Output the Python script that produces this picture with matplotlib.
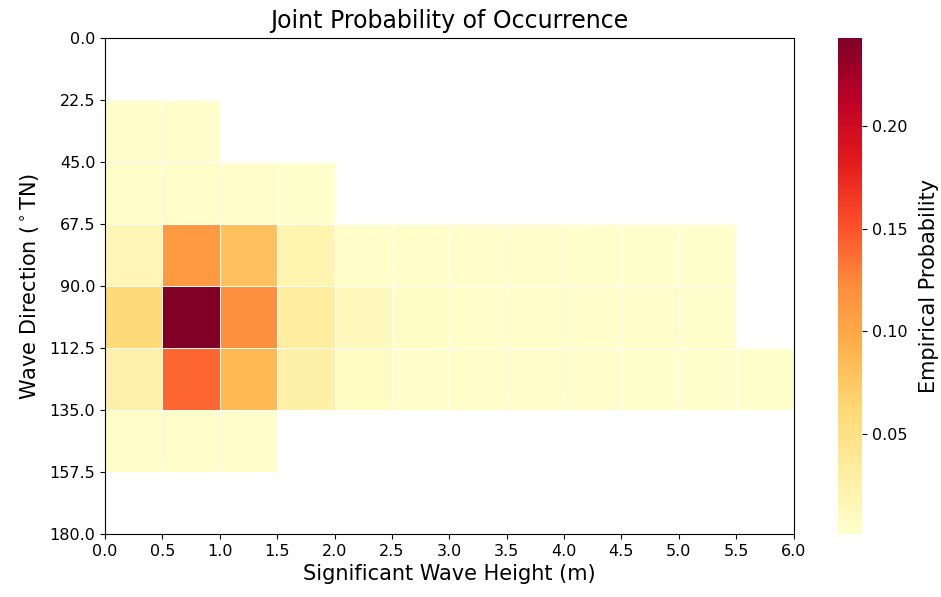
import numpy as np
import matplotlib
matplotlib.use("Agg")
import matplotlib.pyplot as plt

# Bin edges
hs_edges = [0.0, 0.5, 1.0, 1.5, 2.0, 2.5, 3.0, 3.5, 4.0, 4.5, 5.0, 5.5, 6.0]
dir_edges = [0.0, 22.5, 45.0, 67.5, 90.0, 112.5, 135.0, 157.5, 180.0]

# Empirical joint probability, one row per direction bin (0 = no occurrence)
row_0_22 = [0, 0, 0, 0, 0, 0, 0, 0, 0, 0, 0, 0]
row_22_45 = [0.002, 0.002, 0, 0, 0, 0, 0, 0, 0, 0, 0, 0]
row_45_67 = [0.003, 0.004, 0.002, 0.001, 0, 0, 0, 0, 0, 0, 0, 0]
row_67_90 = [0.017, 0.112, 0.080, 0.020, 0.004, 0.003, 0.002, 0.002, 0.001, 0.001, 0.001, 0]
row_90_112 = [0.060, 0.243, 0.121, 0.032, 0.011, 0.005, 0.004, 0.003, 0.002, 0.002, 0.001, 0]
row_112_135 = [0.024, 0.140, 0.087, 0.027, 0.008, 0.004, 0.003, 0.002, 0.002, 0.001, 0.001, 0.001]
row_135_157 = [0.003, 0.004, 0.002, 0, 0, 0, 0, 0, 0, 0, 0, 0]
row_157_180 = [0, 0, 0, 0, 0, 0, 0, 0, 0, 0, 0, 0]

prob = np.array([row_0_22, row_22_45, row_45_67, row_67_90,
                 row_90_112, row_112_135, row_135_157, row_157_180])
prob = np.ma.masked_where(prob <= 0, prob)

fig = plt.figure(figsize=(9.41, 5.97), dpi=100)
ax = fig.add_axes([0.1116, 0.1055, 0.7317, 0.8308])
cax = fig.add_axes([0.8905, 0.1055, 0.026, 0.8308])

mesh = ax.pcolormesh(hs_edges, dir_edges, prob, cmap="YlOrRd",
                     edgecolors="white", linewidth=0.5)
ax.set_xlim(0, 6)
ax.set_ylim(180, 0)
ax.set_xticks(hs_edges)
ax.set_xticklabels([f"{v:.1f}" for v in hs_edges])
ax.set_yticks(dir_edges)
ax.set_yticklabels([f"{v:.1f}" for v in dir_edges])
ax.tick_params(labelsize=11.5)

ax.set_title("Joint Probability of Occurrence", fontsize=17, pad=7)
ax.set_xlabel("Significant Wave Height (m)", fontsize=15)
ax.set_ylabel("Wave Direction ($^\\circ$TN)", fontsize=15, labelpad=6)

cb = fig.colorbar(mesh, cax=cax)
cb.outline.set_visible(False)
cb.set_ticks([0.05, 0.10, 0.15, 0.20])
cb.ax.tick_params(labelsize=11.5)
cb.set_label("Empirical Probability", fontsize=15, labelpad=8)

fig.savefig("out.png", dpi=100)
